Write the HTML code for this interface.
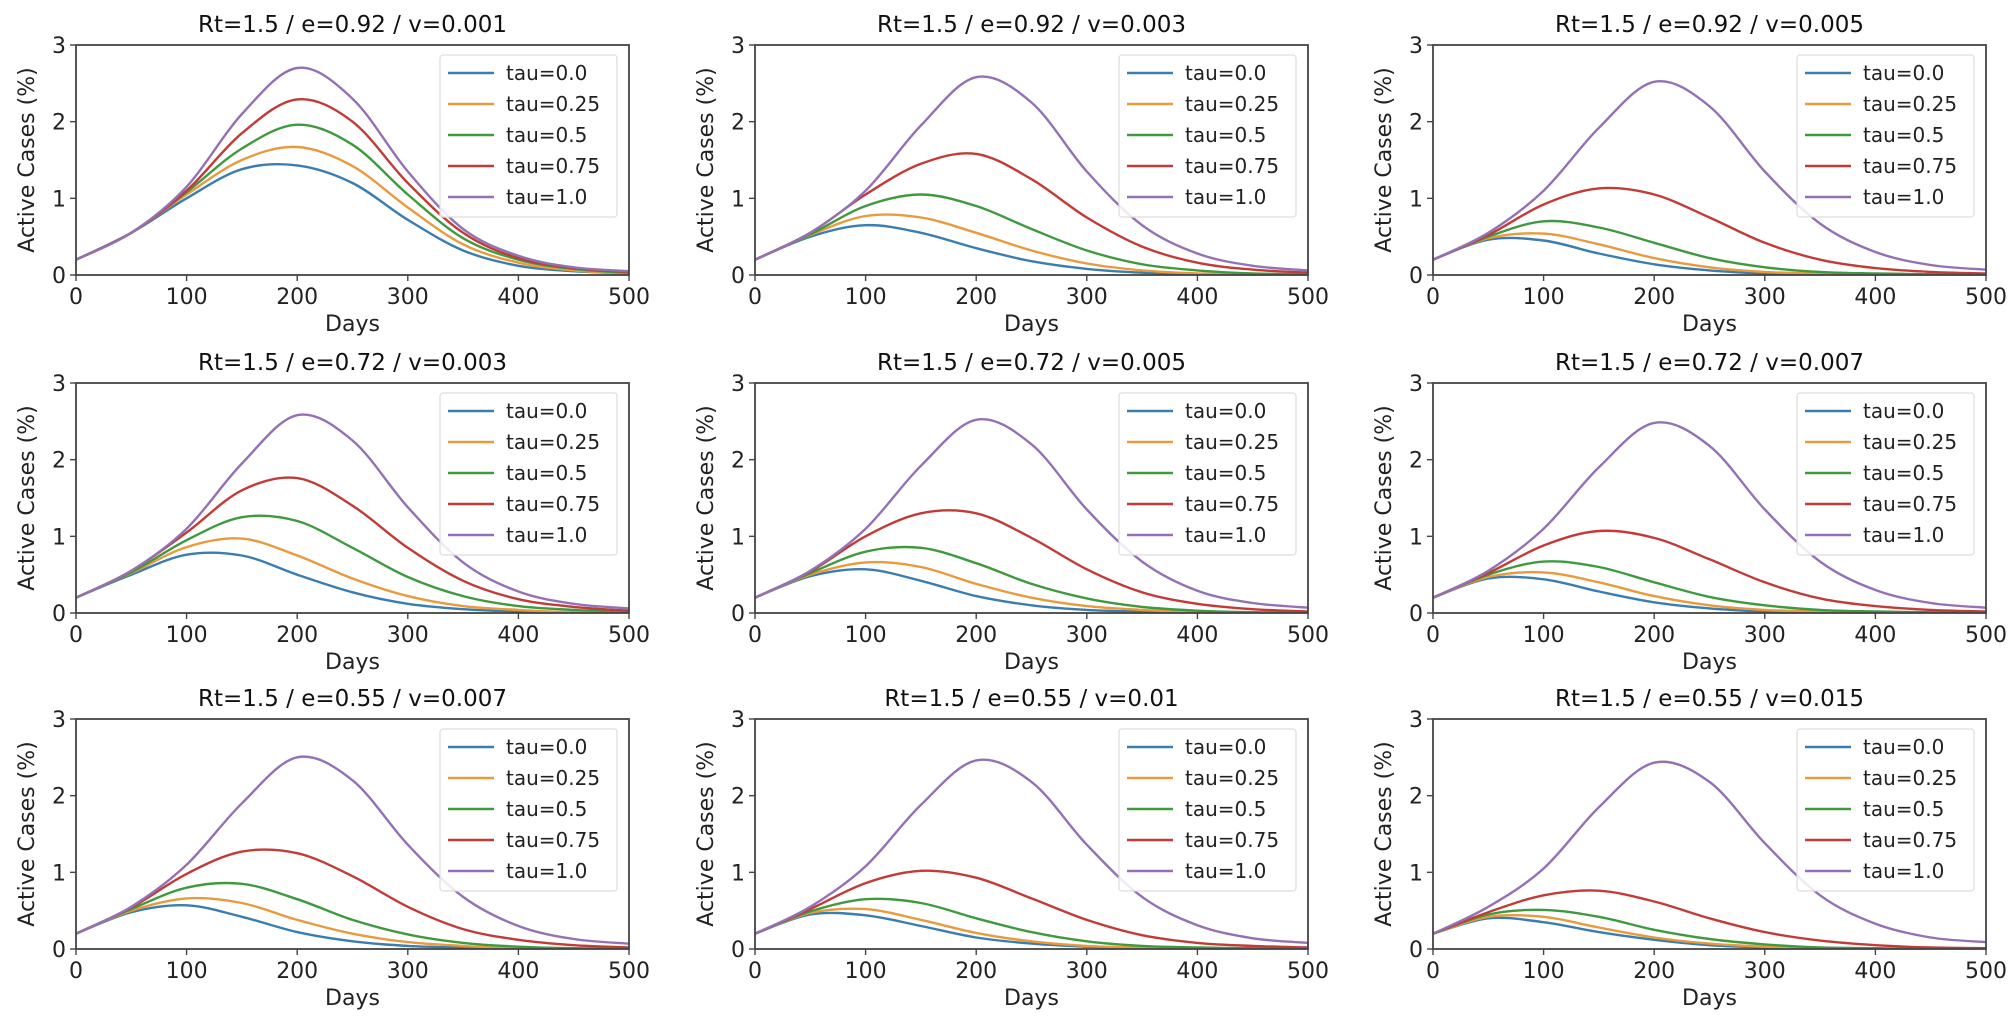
<!DOCTYPE html>
<html><head><meta charset="utf-8">
<style>
html,body{margin:0;padding:0;background:#fff;}
svg{display:block;font-family:"DejaVu Sans","Liberation Sans",sans-serif;}
</style></head>
<body>
<svg id="fig" width="2012" height="1027" viewBox="0 0 2012 1027" xmlns="http://www.w3.org/2000/svg"></svg>
<script>
const days = [0,50,100,150,200,250,300,350,400,450,500];
const tauLabels = ["tau=0.0","tau=0.25","tau=0.5","tau=0.75","tau=1.0"];
const xTicks = [0,100,200,300,400,500];
const yTicks = [0,1,2,3];
const titles = [
 "Rt=1.5 / e=0.92 / v=0.001","Rt=1.5 / e=0.92 / v=0.003","Rt=1.5 / e=0.92 / v=0.005",
 "Rt=1.5 / e=0.72 / v=0.003","Rt=1.5 / e=0.72 / v=0.005","Rt=1.5 / e=0.72 / v=0.007",
 "Rt=1.5 / e=0.55 / v=0.007","Rt=1.5 / e=0.55 / v=0.01","Rt=1.5 / e=0.55 / v=0.015"];
const p1 = [
 [0.2,0.55,1.0,1.38,1.43,1.2,0.72,0.32,0.12,0.05,0.02],
 [0.2,0.55,1.05,1.5,1.67,1.42,0.88,0.4,0.16,0.06,0.02],
 [0.2,0.55,1.08,1.65,1.96,1.7,1.05,0.48,0.2,0.08,0.03],
 [0.2,0.55,1.1,1.85,2.29,2.0,1.2,0.55,0.22,0.09,0.04],
 [0.2,0.55,1.15,2.1,2.7,2.3,1.35,0.6,0.25,0.1,0.05]];
const p2 = [
 [0.2,0.5,0.65,0.55,0.35,0.18,0.08,0.03,0.01,0.0,0.0],
 [0.2,0.52,0.77,0.75,0.55,0.32,0.15,0.06,0.02,0.01,0.0],
 [0.2,0.53,0.9,1.05,0.9,0.6,0.32,0.14,0.06,0.02,0.01],
 [0.2,0.55,1.05,1.45,1.58,1.25,0.75,0.37,0.16,0.07,0.03],
 [0.2,0.55,1.1,1.95,2.58,2.25,1.35,0.65,0.28,0.12,0.06]];
const p3 = [
 [0.2,0.46,0.45,0.28,0.14,0.06,0.02,0.01,0,0,0],
 [0.2,0.48,0.54,0.4,0.22,0.1,0.04,0.02,0.01,0,0],
 [0.2,0.5,0.7,0.62,0.42,0.22,0.1,0.04,0.02,0.01,0],
 [0.2,0.52,0.92,1.13,1.05,0.75,0.42,0.2,0.09,0.04,0.02],
 [0.2,0.55,1.1,1.92,2.52,2.2,1.35,0.67,0.3,0.13,0.07]];
const p4 = [
 [0.2,0.5,0.76,0.75,0.5,0.27,0.12,0.05,0.02,0.01,0],
 [0.2,0.52,0.86,0.97,0.75,0.45,0.22,0.09,0.04,0.01,0.01],
 [0.2,0.53,0.95,1.25,1.2,0.85,0.47,0.22,0.09,0.04,0.02],
 [0.2,0.55,1.05,1.6,1.76,1.4,0.85,0.42,0.18,0.08,0.03],
 [0.2,0.55,1.1,1.95,2.58,2.25,1.38,0.66,0.28,0.12,0.06]];
const p5 = [
 [0.2,0.48,0.57,0.42,0.22,0.1,0.04,0.02,0.01,0,0],
 [0.2,0.5,0.66,0.6,0.38,0.2,0.09,0.04,0.01,0,0],
 [0.2,0.52,0.8,0.85,0.65,0.38,0.19,0.08,0.03,0.01,0.01],
 [0.2,0.54,1.0,1.3,1.3,0.98,0.57,0.27,0.12,0.05,0.02],
 [0.2,0.55,1.1,1.92,2.52,2.2,1.35,0.67,0.29,0.13,0.07]];
const p6 = [
 [0.2,0.45,0.44,0.28,0.14,0.06,0.02,0.01,0,0,0],
 [0.2,0.47,0.53,0.4,0.22,0.1,0.04,0.02,0.01,0,0],
 [0.2,0.5,0.67,0.6,0.4,0.21,0.1,0.04,0.02,0.01,0],
 [0.2,0.52,0.88,1.07,0.98,0.7,0.4,0.19,0.09,0.04,0.02],
 [0.2,0.55,1.1,1.9,2.48,2.18,1.35,0.67,0.3,0.13,0.07]];
const p7 = [
 [0.2,0.48,0.57,0.42,0.22,0.1,0.04,0.02,0.01,0,0],
 [0.2,0.5,0.66,0.6,0.38,0.2,0.09,0.04,0.01,0,0],
 [0.2,0.52,0.8,0.85,0.65,0.38,0.19,0.08,0.03,0.01,0.01],
 [0.2,0.54,0.98,1.27,1.25,0.95,0.55,0.26,0.12,0.05,0.02],
 [0.2,0.55,1.1,1.9,2.5,2.2,1.36,0.68,0.3,0.13,0.07]];
const p8 = [
 [0.2,0.45,0.44,0.3,0.15,0.07,0.03,0.01,0,0,0],
 [0.2,0.47,0.52,0.38,0.21,0.1,0.04,0.02,0.01,0,0],
 [0.2,0.49,0.65,0.6,0.4,0.22,0.1,0.04,0.02,0.01,0],
 [0.2,0.52,0.86,1.02,0.93,0.66,0.38,0.18,0.08,0.04,0.02],
 [0.2,0.55,1.08,1.88,2.46,2.18,1.36,0.68,0.31,0.14,0.08]];
const p9 = [
 [0.2,0.4,0.35,0.22,0.12,0.05,0.02,0.01,0,0,0],
 [0.2,0.42,0.42,0.28,0.15,0.07,0.03,0.01,0,0,0],
 [0.2,0.45,0.51,0.42,0.25,0.13,0.06,0.02,0.01,0,0],
 [0.2,0.48,0.7,0.76,0.62,0.4,0.22,0.11,0.05,0.02,0.01],
 [0.2,0.55,1.05,1.85,2.43,2.18,1.38,0.7,0.33,0.15,0.09]];
const panels = [p1,p2,p3,p4,p5,p6,p7,p8,p9];
const colors = ["#3a7db0","#e89a3c","#3f9a3f","#c23b38","#9272b5"];

const NS = "http://www.w3.org/2000/svg";
const svg = document.getElementById("fig");
const colX = [76,755,1433], rowY = [45,383,719], W = 553, H = 230;
function mk(tag, attrs, parent){ const e=document.createElementNS(NS,tag); for(const k in attrs) e.setAttribute(k,attrs[k]); parent.appendChild(e); return e; }
function smoothPath(pts){
  let d = "M"+pts[0][0].toFixed(1)+","+pts[0][1].toFixed(1);
  for(let i=0;i<pts.length-1;i++){
    const p0=pts[Math.max(i-1,0)], p1=pts[i], p2=pts[i+1], p3=pts[Math.min(i+2,pts.length-1)];
    const c1x=p1[0]+(p2[0]-p0[0])/6, c1y=p1[1]+(p2[1]-p0[1])/6;
    const c2x=p2[0]-(p3[0]-p1[0])/6, c2y=p2[1]-(p3[1]-p1[1])/6;
    d+=" C"+c1x.toFixed(1)+","+c1y.toFixed(1)+" "+c2x.toFixed(1)+","+c2y.toFixed(1)+" "+p2[0].toFixed(1)+","+p2[1].toFixed(1);
  }
  return d;
}
panels.forEach((series, idx) => {
  const L = colX[idx%3], T = rowY[Math.floor(idx/3)];
  const xs = v => L + v/500*W;
  const ys = v => T + H - v/3*H;
  const g = mk("g",{},svg);
  
  
  const clipId = "clip"+idx;
  const cp = mk("clipPath",{id:clipId},g);
  mk("rect",{x:L,y:T,width:W,height:H},cp);
  const lines = mk("g",{"clip-path":"url(#"+clipId+")"},g);
  series.forEach((vals, si) => {
    const pts = vals.map((v,i)=>[xs(days[i]), ys(v)]);
    const p = mk("path",{d:smoothPath(pts),fill:"none",stroke:colors[si],"stroke-width":2.4},lines);
    
    
  });
  const fr = mk("rect",{x:L,y:T,width:W,height:H,fill:"none",stroke:"#444","stroke-width":1.8},g);
  
  
  xTicks.forEach(t => {
    mk("line",{x1:xs(t),x2:xs(t),y1:T+H,y2:T+H+6,stroke:"#444","stroke-width":1.4},g);
    const tx = mk("text",{x:xs(t),y:T+H+29,"font-size":22,"text-anchor":"middle",fill:"#222"},g);
    tx.textContent = t;
    
    
  });
  yTicks.forEach(t => {
    mk("line",{x1:L-6,x2:L,y1:ys(t),y2:ys(t),stroke:"#444","stroke-width":1.4},g);
    const ty = mk("text",{x:L-10,y:ys(t)+8,"font-size":22,"text-anchor":"end",fill:"#222"},g);
    ty.textContent = t;
    
    
  });
  const xl = mk("text",{x:L+W/2,y:T+H+56,"font-size":22,"text-anchor":"middle",fill:"#222"},g);
  xl.textContent = "Days";
  
  
  const yl = mk("text",{x:0,y:0,"font-size":22,"text-anchor":"middle",fill:"#222",transform:"translate("+(L-42)+","+(T+H/2)+") rotate(-90)"},g);
  yl.textContent = "Active Cases (%)";
  
  
  const tt = mk("text",{x:L+W/2,y:T-13,"font-size":23,"text-anchor":"middle",fill:"#111"},g);
  tt.textContent = titles[idx];
  
  
  const lx = L+W-189, ly = T+10;
  const lg = mk("g",{},g);
  
  
  mk("rect",{x:lx,y:ly,width:177,height:162,rx:3,fill:"#fff","fill-opacity":0.85,stroke:"#ddd","stroke-width":1.2},lg);
  tauLabels.forEach((lab, si) => {
    const yy = ly+18+si*31;
    const e = mk("g",{},lg);
    
    
    mk("line",{x1:lx+8,x2:lx+54,y1:yy,y2:yy,stroke:colors[si],"stroke-width":2.6},e);
    const t = mk("text",{x:lx+66,y:yy+7,"font-size":20,fill:"#222"},e);
    t.textContent = lab;
  });
});
</script>
</body></html>
